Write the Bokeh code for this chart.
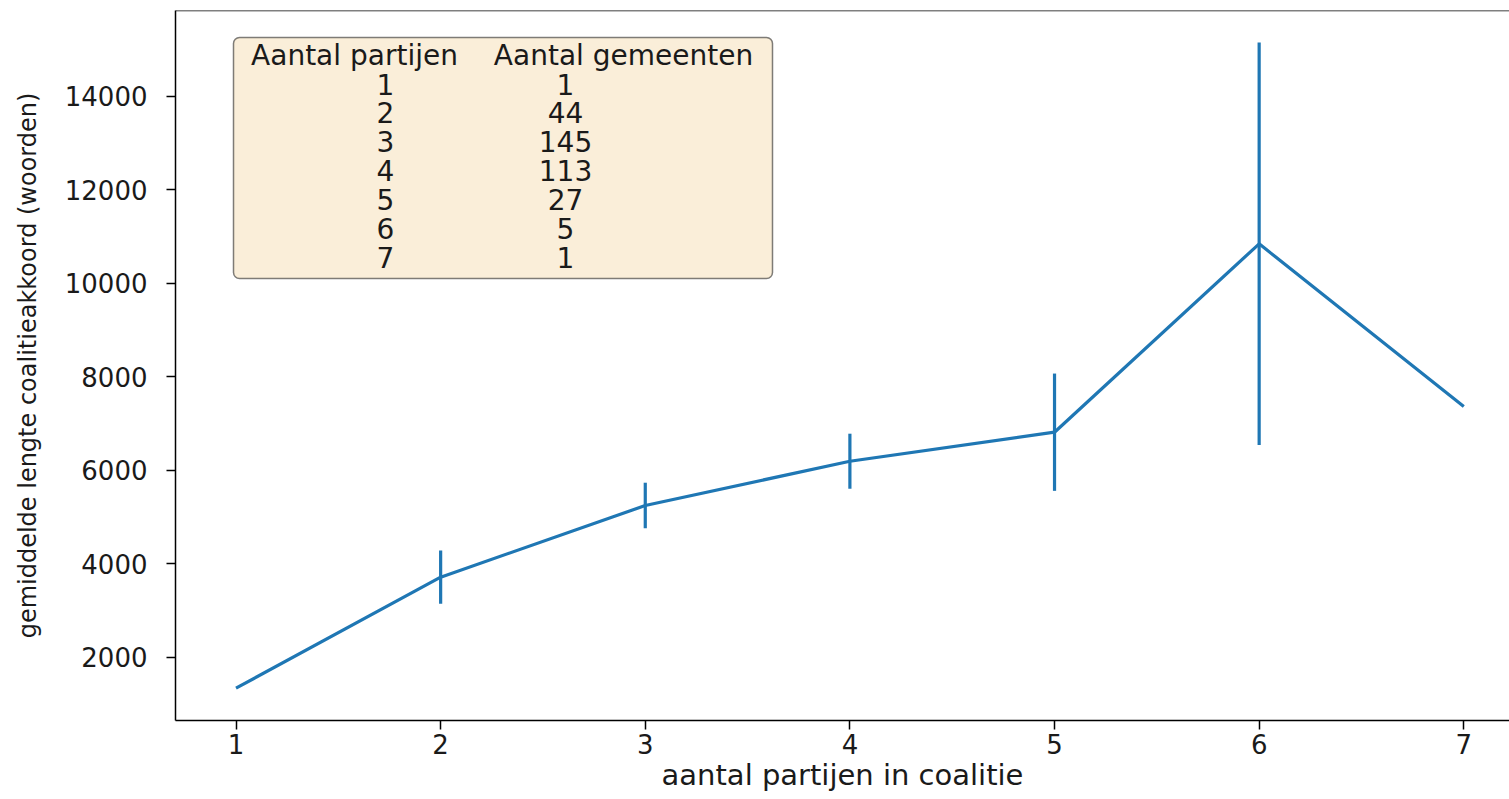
from bokeh.plotting import figure
from bokeh.models import FixedTicker, BoxAnnotation, Span, ColumnDataSource
from bokeh.core.properties import value
from bokeh.embed import file_html
from bokeh.resources import INLINE

# ---- data ----
n_parties = [1, 2, 3, 4, 5, 6, 7]
mean_words = [1337, 3712, 5246, 6194, 6815, 10847, 7365]
err_words = [None, 570, 488, 589, 1255, 4307, None]
n_municipalities = [1, 44, 145, 113, 27, 5, 1]
x_ticks = [1, 2, 3, 4, 5, 6, 7]
y_ticks = [2000, 4000, 6000, 8000, 10000, 12000, 14000]
header = ["Aantal partijen", "Aantal gemeenten"]

FONT = "DejaVu Sans"
BLUE = "#1f77b4"

# frame geometry (page pixels) and ranges
X0, X1 = 0.7043, 7.2234
Y0, Y1 = 645.0, 15840.0
FL, FR, FT, FB = 175, 1509, 10, 720


def dx(px):
    return X0 + (px - FL) / (FR - FL) * (X1 - X0)


def dy(py):
    return Y0 + (FB - py) / (FB - FT) * (Y1 - Y0)


p = figure(width=1509, height=799, x_range=(X0, X1), y_range=(Y0, Y1),
           output_backend="svg", toolbar_location=None,
           min_border_left=175, min_border_right=0, min_border_top=10,
           min_border_bottom=79)
p.outline_line_color = None
p.background_fill_color = "white"
p.border_fill_color = "white"
p.xgrid.visible = False
p.ygrid.visible = False

# axes
p.xaxis.ticker = FixedTicker(ticks=x_ticks)
p.yaxis.ticker = FixedTicker(ticks=y_ticks)
p.yaxis.formatter.use_scientific = False
for ax in (p.xaxis[0], p.yaxis[0]):
    ax.axis_line_color = "black"
    ax.axis_line_width = 1.5
    ax.major_tick_line_color = "black"
    ax.major_tick_line_width = 1.5
    ax.major_tick_out = 9
    ax.major_tick_in = 0
    ax.minor_tick_line_color = None
    ax.major_label_text_font = FONT
    ax.major_label_text_font_size = "26px"
    ax.major_label_text_color = "#1a1a1a"
    ax.axis_label_text_font = FONT
    ax.axis_label_text_font_style = "normal"
    ax.axis_label_text_color = "#1a1a1a"

p.xaxis.axis_label = "aantal partijen in coalitie"
p.xaxis.axis_label_text_font_size = "29px"
p.xaxis.major_label_standoff = 4
p.xaxis.axis_label_standoff = 1

p.yaxis.axis_label = "gemiddelde lengte coalitieakkoord (woorden)"
p.yaxis.axis_label_text_font_size = "24px"
p.yaxis.major_label_standoff = 19
p.yaxis.axis_label_standoff = 20

# top border
p.add_layout(Span(location=Y1, dimension="width", line_color="black", line_width=1.5))

# data line + error bars
p.line(n_parties, mean_words, line_color=BLUE, line_width=3.2)
ex = [x for x, e in zip(n_parties, err_words) if e]
elo = [m - e for m, e in zip(mean_words, err_words) if e]
ehi = [m + e for m, e in zip(mean_words, err_words) if e]
p.segment(x0=ex, y0=elo, x1=ex, y1=ehi, line_color=BLUE, line_width=3.2)

# table box
box = BoxAnnotation(left=dx(233), right=dx(772), top=dy(37), bottom=dy(278),
                    fill_color="wheat", fill_alpha=0.5,
                    line_color="black", line_alpha=0.5, line_width=1.5,
                    border_radius=6, level="underlay")
p.add_layout(box)

# header
p.text(x=[dx(354), dx(623)], y=[dy(55), dy(55)], text=header,
       text_align="center", text_baseline="alphabetic",
       text_font=value(FONT), text_font_size="28px", text_color="#1a1a1a")

# rows
row_y = [dy(83.5 + i * 28.85) for i in range(len(n_parties))]
src = ColumnDataSource(dict(
    x1=[dx(385)] * len(n_parties), x2=[dx(565)] * len(n_parties), y=row_y,
    t1=[str(v) for v in n_parties], t2=[str(v) for v in n_municipalities]))
p.text(x="x1", y="y", text="t1", source=src, text_align="center",
       text_baseline="alphabetic", text_font=value(FONT),
       text_font_size="28px", text_color="#1a1a1a")
p.text(x="x2", y="y", text="t2", source=src, text_align="center",
       text_baseline="alphabetic", text_font=value(FONT),
       text_font_size="28px", text_color="#1a1a1a")

open("out.html", "w").write(file_html(p, INLINE))
